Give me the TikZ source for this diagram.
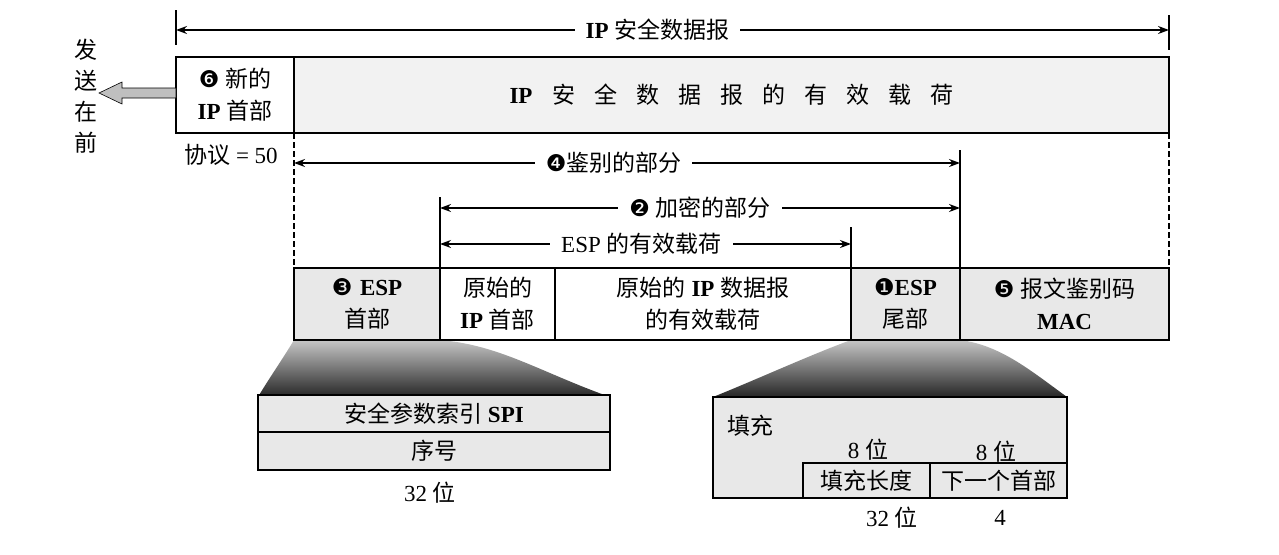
\documentclass[tikz,border=0pt]{standalone}
\usepackage{fontspec}
\setmainfont{Liberation Serif}
\newfontfamily\cjk{Noto Sans CJK SC}
\newfontfamily\dvs{DejaVu Sans}
\usetikzlibrary{arrows.meta}
\newcommand{\C}[1]{{\cjk #1}}
\newcommand{\lat}[1]{{\bfseries #1}}
\newcommand{\cnum}[1]{{\dvs\fontsize{23}{23}\selectfont #1}}
\begin{document}
\begin{tikzpicture}[x=1pt,y=-1pt,
  every node/.style={font=\fontsize{23}{32}\selectfont, inner sep=0pt, outer sep=0pt},
  box/.style={draw, line width=2pt, anchor=north west, align=center},
  wbox/.style={box, fill=white, line width=2.5pt},
  gbox/.style={box, fill=gray!18},
  dim/.style={line width=1.4pt, {Stealth[length=11pt,width=8pt]}-{Stealth[length=11pt,width=8pt]}},
  tick/.style={line width=1.4pt},
  dsh/.style={line width=1.4pt, dash pattern=on 6pt off 3pt},
  lab/.style={fill=white, inner xsep=11pt, inner ysep=2pt},
  fan/.style={top color=gray!45, bottom color=black!85},
  plain/.style={}]
\useasboundingbox (0,0) rectangle (1279,554);

% expansion fans
\path[fan] (294,340) .. controls (282,360) and (268,380) .. (258,397)
  -- (610,397) .. controls (540,372) and (500,345) .. (440,340) -- cycle;
\path[fan] (851,340) .. controls (810,355) and (760,378) .. (713,397)
  -- (1067,397) .. controls (1030,370) and (1000,345) .. (960,340) -- cycle;

% top datagram
\node[box, fill=white, minimum width=118pt, minimum height=76pt] (nh) at (176,57)
  {\cnum{❻} \C{新的}\\\lat{IP} \C{首部}};
\node[box, fill=gray!10, minimum width=875pt, minimum height=76pt] (np) at (294,57)
  {\lat{IP}\hspace{20pt}\C{安}\hspace{19pt}\C{全}\hspace{19pt}\C{数}\hspace{19pt}\C{据}\hspace{19pt}\C{报}\hspace{19pt}\C{的}\hspace{19pt}\C{有}\hspace{19pt}\C{效}\hspace{19pt}\C{载}\hspace{19pt}\C{荷}};

% send-first arrow
\filldraw[fill=gray!50, draw=black, line width=0.6pt]
  (176,88) -- (122,88) -- (122,82) -- (99,93) -- (122,104) -- (122,98) -- (176,98) -- cycle;
\node[align=center, font=\fontsize{23}{31}\selectfont] (send) at (86,96) {\C{发}\\\C{送}\\\C{在}\\\C{前}};
\node (proto) at (231,155) {\C{协议} = 50};

% top dimension
\coordinate (t1a) at (176,10); \coordinate (t1b) at (176,45);
\coordinate (t2a) at (1169,15); \coordinate (t2b) at (1169,50);
\coordinate (tl) at (176,30); \coordinate (tr) at (1169,30);
\draw[tick] (t1a) -- (t1b);
\draw[tick] (t2a) -- (t2b);
\draw[dim] (tl) -- node[lab, pos=0.485] (tlab) {\lat{IP} \C{安全数据报}} (tr);

% bottom row
\node[gbox, minimum width=146pt, minimum height=72pt] (eh) at (294,268)
  {\cnum{❸}\,\,\lat{ESP}\\\C{首部}};
\node[gbox, minimum width=109pt, minimum height=72pt] (et) at (851,268)
  {\cnum{❶}\lat{ESP}\\\C{尾部}};
\node[gbox, minimum width=209pt, minimum height=72pt] (mac) at (960,268)
  {\cnum{❺} \C{报文鉴别码}\\\lat{MAC}};
\node[wbox, minimum width=115pt, minimum height=72pt] (oh) at (440,268)
  {\C{原始的}\\\lat{IP} \C{首部}};
\node[wbox, minimum width=296pt, minimum height=72pt] (op) at (555,268)
  {\C{原始的} \lat{IP} \C{数据报}\\\C{的有效载荷}};

% dashed extension lines
\draw[dsh] (nh.south east) -- (eh.north west);
\draw[dsh] (np.south east) -- (mac.north east);

% ticks
\coordinate (k4) at (960,150);
\coordinate (k2) at (440,197);
\coordinate (ke) at (851,227);
\draw[tick] (k4) -- (mac.north west);
\draw[tick] (k2) -- (oh.north west);
\draw[tick] (ke) -- (op.north east);

% dimension arrows
\coordinate (a4l) at (294,163); \coordinate (a4r) at (960,163);
\coordinate (a2l) at (440,208); \coordinate (a2r) at (960,208);
\coordinate (ael) at (440,244); \coordinate (aer) at (851,244);
\draw[dim] (a4l) -- node[lab, pos=0.48] (l4) {\cnum{❹}\C{鉴别的部分}} (a4r);
\draw[dim] (a2l) -- node[lab, pos=0.5] (l2) {\cnum{❷} \C{加密的部分}} (a2r);
\draw[dim] (ael) -- node[lab, pos=0.49] (le) {ESP \C{的有效载荷}} (aer);

% ESP header detail
\node[box, fill=gray!18, minimum width=352pt, minimum height=37pt] (spi) at (258,395)
  {\C{安全参数索引} \lat{SPI}};
\node[box, fill=gray!18, minimum width=352pt, minimum height=38pt] (seq) at (258,432)
  {\C{序号}};
\node (w32a) at (430,493) {32 \C{位}};

% ESP trailer detail
\node[box, fill=gray!18, minimum width=354pt, minimum height=101pt] (pad) at (713,397) {};
\node (padl) at (750,426) {\C{填充}};
\node (b8a) at (868,450) {8 \C{位}};
\node (b8b) at (996,452) {8 \C{位}};
\node[box, fill=gray!18, minimum width=127pt, minimum height=35pt] (pl) at (803,463) {\C{填充长度}};
\node[box, fill=gray!18, minimum width=137pt, minimum height=35pt] (nx) at (930,463) {\C{下一个首部}};
\node (w32b) at (892,518) {32 \C{位}};
\node (w4) at (1000,518) {4};
\end{tikzpicture}
\end{document}
